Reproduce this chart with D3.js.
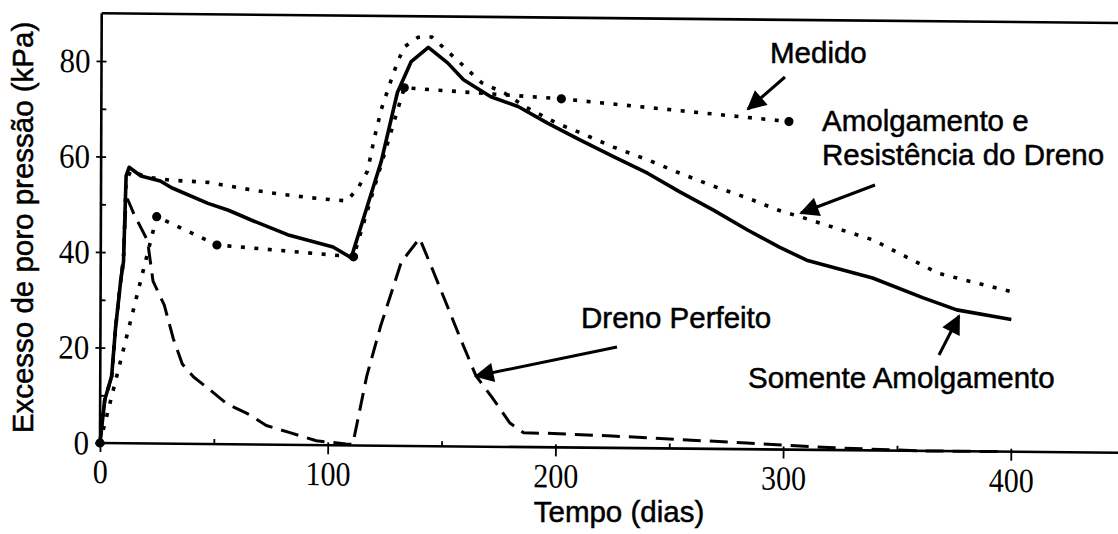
<!DOCTYPE html>
<html>
<head>
<meta charset="utf-8">
<script src="https://cdn.jsdelivr.net/npm/d3@7/dist/d3.min.js"></script>
<style>
  html, body { margin: 0; padding: 0; background: #fff; }
  svg { display: block; }
</style>
</head>
<body>
<svg id="chart" width="1118" height="534"></svg>
<script>
// ---------- data (dias, kPa) ----------
const xTicks = [0, 100, 200, 300, 400];
const xMinorTicks = [50, 150, 250, 350];
const yTicks = [0, 20, 40, 60, 80];
const yMinorTicks = [10, 30, 50, 70];

// Somente Amolgamento (solid)
const somenteAmolgamento = [
  [0,0],[2,9],[5,14],[6.6,24],[8.8,34],[10,38],[11,56],[12.3,57.8],[17.5,56],[26,55],
  [31,53.6],[47,50.4],[56,49],[66,47],[82,44],[102,41.5],[110,39.3],[123,59.5],[130,74],
  [136,80.5],[143.5,83.5],[152,80.3],[159,76.8],[171,73.3],[183,71.3],[196,67.9],[210,64.5],
  [225,61],[240,57.6],[254,53.8],[269,50],[284,45.9],[298,42.4],[310,39.7],[339,36.1],
  [361,32.1],[376,29.6],[400,27.7]
];

// Amolgamento e Resistência do Dreno (dotted)
const amolgamentoResistencia = [
  [0,0],[2,9],[5,14],[6.6,24],[8.8,34],[10,38],[11,55],[13,57],[20,55.8],[30,55.2],
  [47,54.8],[66,53.3],[80,52.4],[96,51.6],[108,51.2],[113,54],[117,57.5],[120,64.5],
  [123,70.5],[127.5,77],[130,80.4],[133,83.6],[139,85.6],[145,85.7],[152,82.7],[159,79.7],
  [167,76.2],[177,74.1],[186,71.3],[200,67.9],[210,66],[225,63],[240,60.4],[254,57.7],
  [269,55],[284,52.6],[297,50.2],[307,48.8],[339,44.1],[368,37.2],[400,33.5]
];

// Dreno Perfeito (dashed)
const drenoPerfeito = [
  [0,0],[2,9],[5,14],[6.6,24],[8.8,34],[10,40],[11,50],[11.8,51],[14.5,48],[20.5,42.5],
  [23,34],[28,29],[32,22],[36,16.7],[41,14],[47,11.8],[55.5,8.5],[64.5,6.5],[73,4],
  [83,2.6],[95,0.9],[108,0.3],[111,0.2],[117,14.5],[123,25],[132,38.5],[140,43.5],
  [146,36.7],[152,29.7],[158,22.7],[165,14.8],[172,10.4],[180,5],[186,3],[199,2.9],
  [225,2.5],[254,1.9],[284,1.3],[320,0.5],[360,0],[395,0]
];

// Medido (measured points, dotted + markers)
const medido = [
  [0,0],[24.5,47.5],[51,41.7],[111,39.5],[133,75],[202,73],[302,68.7]
];

// ---------- layout ----------
const W = 1118, H = 534;
const svg = d3.select("#chart");
svg.append("rect").attr("width", W).attr("height", H).attr("fill", "#fff");

const x = d3.scaleLinear().domain([0, 450]).range([100, 100 + 450 * 2.277]);
const y = d3.scaleLinear().domain([0, 90]).range([443, 443 - 90 * 4.775]);

// scanned figure is slightly skewed
const plot = svg.append("g")
  .attr("transform", "translate(100,443) matrix(1,0.0096,-0.004,1,0,0) translate(-100,-443)");

// frame lines
const frame = plot.append("g").attr("stroke", "#000").attr("stroke-width", 2.6).attr("fill", "none");
frame.append("line").attr("x1", x(0)).attr("x2", x(0)).attr("y1", y(0)).attr("y2", y(90));
frame.append("line").attr("x1", x(0)).attr("x2", x(450)).attr("y1", y(90)).attr("y2", y(90));
frame.append("line").attr("x1", x(0)).attr("x2", x(450)).attr("y1", y(0)).attr("y2", y(0));

const serif = "'Liberation Serif', 'Times New Roman', serif";

// Y axis
const yAx = plot.append("g").attr("transform", `translate(${x(0)},0)`)
  .call(d3.axisLeft(y).tickValues(yTicks).tickSize(5).tickPadding(6).tickFormat(d3.format("d")));
yAx.select(".domain").remove();
yAx.selectAll(".tick line").attr("x1", 5).attr("stroke-width", 1.8);
yAx.selectAll(".tick text")
  .attr("font-family", serif).attr("font-size", 34).attr("fill", "#000")
  .attr("textLength", d => String(d).length * 15.5).attr("lengthAdjust", "spacingAndGlyphs");
const yMin = plot.append("g").attr("transform", `translate(${x(0)},0)`)
  .call(d3.axisLeft(y).tickValues(yMinorTicks).tickSize(-5).tickFormat(""));
yMin.select(".domain").remove();
yMin.selectAll(".tick line").attr("stroke-width", 1.8);

// X axis
const xAx = plot.append("g").attr("transform", `translate(0,${y(0)})`)
  .call(d3.axisBottom(x).tickValues(xTicks).tickSize(9).tickPadding(7).tickFormat(d3.format("d")));
xAx.select(".domain").remove();
xAx.selectAll(".tick line").attr("y1", -3).attr("stroke-width", 1.8);
xAx.selectAll(".tick text")
  .attr("font-family", serif).attr("font-size", 34).attr("fill", "#000")
  .attr("textLength", d => String(d).length * 15).attr("lengthAdjust", "spacingAndGlyphs");
const xMin = plot.append("g").attr("transform", `translate(0,${y(0)})`)
  .call(d3.axisBottom(x).tickValues(xMinorTicks).tickSize(-5).tickFormat(""));
xMin.select(".domain").remove();
xMin.selectAll(".tick line").attr("stroke-width", 1.8);

// lines
const line = d3.line().x(d => x(d[0])).y(d => y(d[1]));
plot.append("path").datum(drenoPerfeito).attr("d", line)
  .attr("fill", "none").attr("stroke", "#000").attr("stroke-width", 3)
  .attr("stroke-dasharray", "18,9").attr("stroke-linejoin", "round");
plot.append("path").datum(amolgamentoResistencia).attr("d", line)
  .attr("fill", "none").attr("stroke", "#000").attr("stroke-width", 3.6)
  .attr("stroke-dasharray", "4,9.5");
plot.append("path").datum(medido).attr("d", line)
  .attr("fill", "none").attr("stroke", "#000").attr("stroke-width", 3.6)
  .attr("stroke-dasharray", "4,9.5");
plot.append("path").datum(somenteAmolgamento).attr("d", line)
  .attr("fill", "none").attr("stroke", "#000").attr("stroke-width", 3.6)
  .attr("stroke-linejoin", "round");
plot.selectAll("circle.med").data(medido).join("circle")
  .attr("class", "med").attr("cx", d => x(d[0])).attr("cy", d => y(d[1]))
  .attr("r", 4.6).attr("fill", "#000");

// ---------- titles & annotations (overlay, not skewed) ----------
const sans = "'Liberation Sans', Arial, sans-serif";
const txt = (s, tx, ty, anchor) => svg.append("text")
  .attr("x", tx).attr("y", ty).attr("text-anchor", anchor || "start")
  .attr("font-family", sans).attr("font-size", 29.5).attr("fill", "#000")
  .attr("stroke", "#000").attr("stroke-width", 0.5).text(s);

txt("Tempo (dias)", 619, 522, "middle");
svg.append("text")
  .attr("transform", "translate(33,227.5) rotate(-90)")
  .attr("text-anchor", "middle")
  .attr("font-family", sans).attr("font-size", 29.5).attr("fill", "#000")
  .attr("stroke", "#000").attr("stroke-width", 0.5)
  .text("Excesso de poro pressão (kPa)");

txt("Medido", 770, 63);
txt("Amolgamento e", 822, 131);
txt("Resistência do Dreno", 822, 165);
txt("Dreno Perfeito", 581, 328);
txt("Somente Amolgamento", 748, 388);

// arrows
const defs = svg.append("defs");
defs.append("marker").attr("id", "ah").attr("viewBox", "0 0 10 10")
  .attr("refX", 9).attr("refY", 5).attr("markerWidth", 7.5).attr("markerHeight", 6.5)
  .attr("markerUnits", "strokeWidth").attr("orient", "auto")
  .append("path").attr("d", "M0,0 L10,5 L0,10 Z").attr("fill", "#000");

const arrows = [
  [785, 77, 748, 109],
  [875, 185, 801, 213],
  [617, 347, 476, 376],
  [939, 355, 959, 316]
];
svg.selectAll("line.arrow").data(arrows).join("line")
  .attr("class", "arrow")
  .attr("x1", d => d[0]).attr("y1", d => d[1]).attr("x2", d => d[2]).attr("y2", d => d[3])
  .attr("stroke", "#000").attr("stroke-width", 3).attr("marker-end", "url(#ah)");
</script>
</body>
</html>
